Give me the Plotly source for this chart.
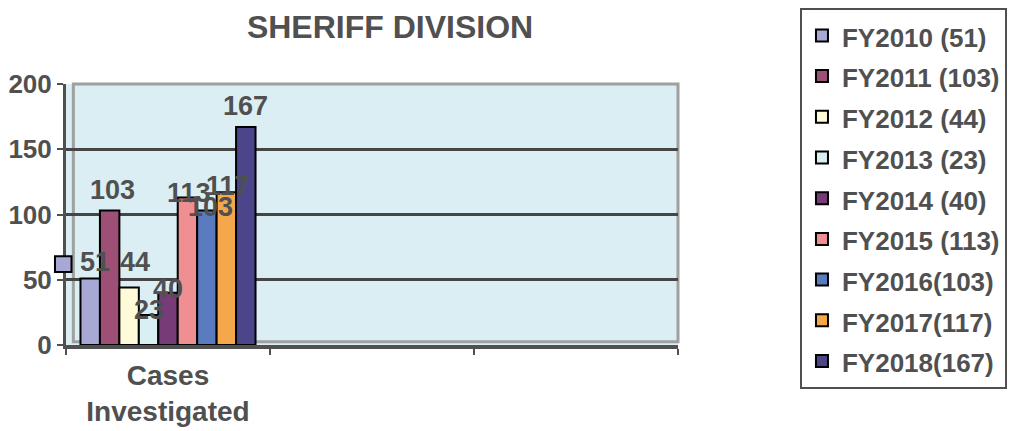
import plotly.graph_objects as go

categories = ["Cases<br>Investigated", " ", "  "]
series_names = ["FY2010 (51)", "FY2011 (103)", "FY2012 (44)", "FY2013 (23)", "FY2014 (40)",
                "FY2015 (113)", "FY2016(103)", "FY2017(117)", "FY2018(167)"]
series_values = [51, 103, 44, 23, 40, 113, 103, 117, 167]
series_colors = ["#A8A8D4", "#9E4F75", "#FFFBD8", "#DAEFF4", "#773C77",
                 "#EF8F92", "#5A7BBE", "#F4A84B", "#4B4589"]
y_ticks = [0, 50, 100, 150, 200]

# pixel lift of each data label above its bar top (as placed in the original chart)
label_lift = [16, 21, 26, 5, 4, 5, 4, 6, 21]
label_nudge = [5, 3, 6, 0, 0, 2, 4, 2, 0]

TXT = "#505050"
FONT = "Liberation Sans, Arial, sans-serif"

W, H = 1016, 431
ML, MR, MT, MB = 58, 346, 76, 94
BARGAP = 0.142
plot_w = W - ML - MR
pitch = plot_w / len(categories) * (1 - BARGAP) / len(series_values)

fig = go.Figure()
for name, val, col in zip(series_names, series_values, series_colors):
    fig.add_trace(go.Bar(
        x=[categories[0]], y=[val], name=f"<span style='font-size:26px'>{name}</span>",
        marker=dict(color=col, line=dict(color="black", width=2)),
        cliponaxis=False,
    ))

n = len(series_values)
for i, (val, lift, nudge) in enumerate(zip(series_values, label_lift, label_nudge)):
    fig.add_annotation(x=categories[0], y=val, xref="x", yref="y", text=str(val),
                       showarrow=False, yanchor="middle", xanchor="center",
                       xshift=(i - (n - 1) / 2) * pitch + nudge, yshift=lift,
                       font=dict(size=27, color=TXT, family=FONT, weight="bold"))

fig.update_layout(
    width=W, height=H,
    margin=dict(l=ML, r=MR, t=MT, b=MB, autoexpand=False),
    paper_bgcolor="white", plot_bgcolor="#DAEEF3",
    barmode="group", bargap=BARGAP, bargroupgap=0,
    font=dict(family=FONT, color=TXT, size=24),
    title=dict(text="SHERIFF DIVISION", x=0.376, xanchor="center", y=0.956, yanchor="middle",
               font=dict(size=32, color=TXT, family=FONT, weight="bold")),
    legend=dict(x=1.1993, y=1.291, xanchor="left", yanchor="top",
                bordercolor="#505050", borderwidth=2, bgcolor="white", maxheight=420,
                font=dict(size=29, color=TXT, family=FONT, weight="bold"), traceorder="normal"),
    showlegend=True,
)
fig.update_xaxes(categoryorder="array", categoryarray=categories, type="category",
                 tickson="boundaries", ticks="outside", ticklen=6, tickwidth=2, tickcolor="#505050",
                 showline=True, linecolor="#505050", linewidth=4, showgrid=False, automargin=False,
                 ticklabelstandoff=2,
                 tickfont=dict(size=28, color=TXT, family=FONT, weight="bold"), range=[-0.5, 2.5])
fig.update_yaxes(range=[0, 200], tickvals=y_ticks, ticks="outside", ticklen=6, tickwidth=2,
                 tickcolor="#505050", showline=True, linecolor="#505050", linewidth=3, automargin=False,
                 showgrid=True, gridcolor="#454545", gridwidth=3, zeroline=False,
                 tickfont=dict(size=26, color=TXT, family=FONT, weight="bold"))

# back wall outline
fig.add_shape(type="rect", xref="paper", yref="paper", x0=0.012, x1=1, y0=0.012, y1=1,
              line=dict(color="#A0A0A0", width=3), layer="below")
# small stray legend key beside the first label
fig.add_shape(type="rect", xref="paper", yref="y", x0=-0.018, x1=0.009, y0=56, y1=68,
              fillcolor=series_colors[0], line=dict(color="black", width=2))

fig.write_html("out.html")
